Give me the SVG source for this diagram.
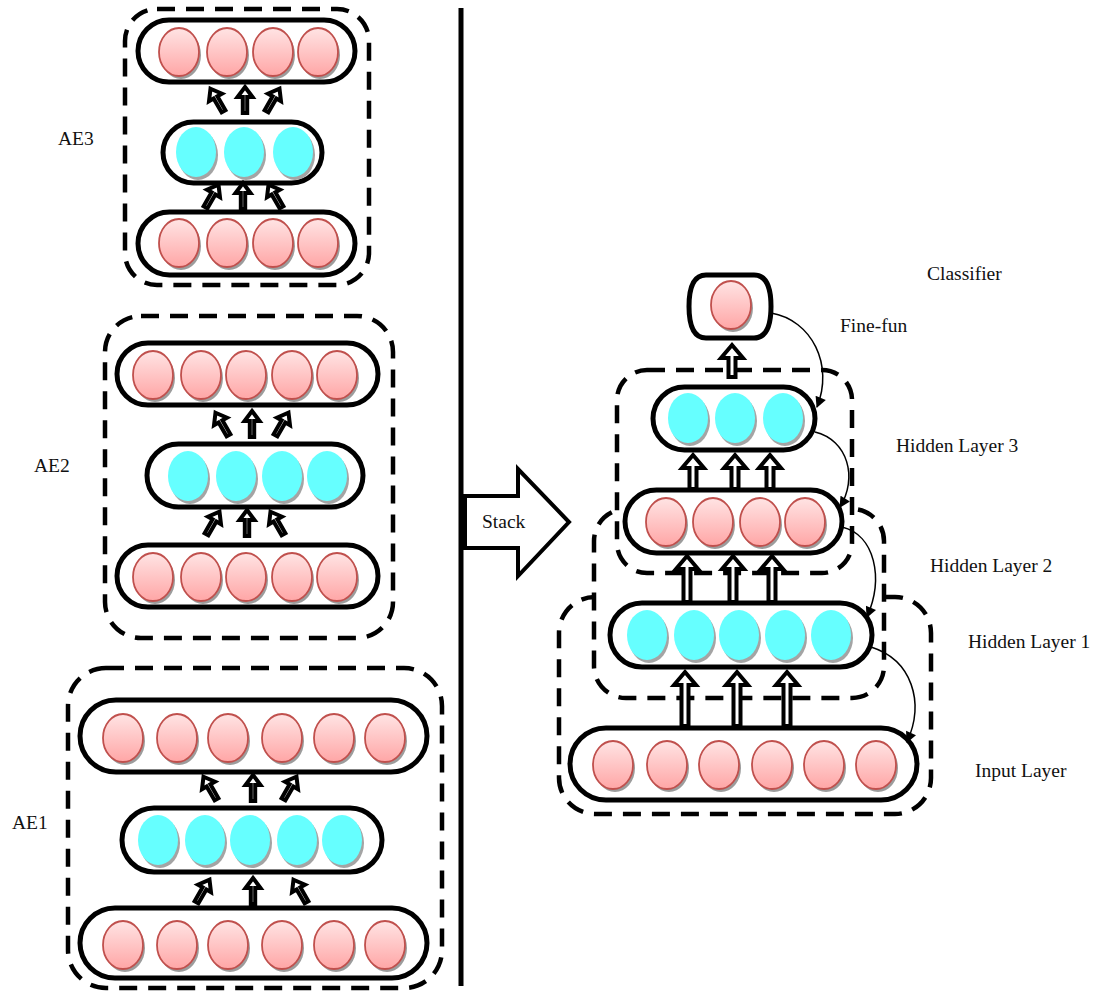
<svg xmlns="http://www.w3.org/2000/svg" xmlns:xlink="http://www.w3.org/1999/xlink" width="1096" height="993" viewBox="0 0 1096 993">
  <style>
    .lbl { font-family: "Liberation Serif", "Times New Roman", serif; font-size: 19.5px; fill: #111; }
    .dash { fill: #fff; stroke: #000; stroke-width: 4.5; stroke-dasharray: 18 11; }
    .pill { fill: #fff; stroke: #000; stroke-width: 5; }
    .blk { fill: #fff; stroke: #000; stroke-width: 4; stroke-linejoin: miter; }
    .conn { fill: none; stroke: #000; stroke-width: 1.5; }
  </style>
  <defs>
    <linearGradient id="pg" x1="0" y1="0" x2="0" y2="1">
      <stop offset="0" stop-color="#ffe4e4"/>
      <stop offset="1" stop-color="#ffa6a6"/>
    </linearGradient>
    <!-- pink neuron with soft drop shadow -->
    <g id="pn">
      <ellipse cx="2" cy="3" rx="20" ry="24" fill="#9c9c9c"/>
      <ellipse rx="20" ry="24" fill="url(#pg)" stroke="#c0504d" stroke-width="1.8"/>
    </g>
    <!-- cyan neuron -->
    <g id="cn">
      <ellipse cx="2" cy="3" rx="20" ry="25" fill="#a4a4a4"/>
      <ellipse rx="20" ry="25" fill="#66ffff"/>
    </g>
    <!-- small hollow block arrow pointing up -->
    <path id="sa" class="blk" d="M0,-13 L7.5,-3 L2.2,-3 L2.2,13 L-2.2,13 L-2.2,-3 L-7.5,-3 Z"/>
    <marker id="ah" viewBox="0 0 10 10" refX="9" refY="5" markerWidth="12" markerHeight="11" markerUnits="userSpaceOnUse" orient="auto">
      <path d="M0,0 L10,5 L0,10 Z" fill="#000"/>
    </marker>
  </defs>

  <!-- divider -->
  <rect x="458.5" y="8" width="5" height="978" fill="#000"/>

  <!-- Stack arrow -->
  <g id="stack">
    <polygon points="465,496 518,496 518,469 569,522 518,576 518,548 465,548" fill="#fff" stroke="#000" stroke-width="4"/>
    <text class="lbl" x="482" y="528">Stack</text>
  </g>

  <!-- AE3 -->
  <g id="ae3">
    <rect class="dash" x="125" y="9" width="244" height="276" rx="32"/>
    <rect class="pill" x="138" y="20" width="217" height="62" rx="31"/>
    <use href="#pn" x="179" y="52"/><use href="#pn" x="227" y="52"/><use href="#pn" x="273" y="52"/><use href="#pn" x="318" y="52"/>
    <rect class="pill" x="163" y="122" width="159" height="61" rx="30.5"/>
    <use href="#cn" x="196" y="152"/><use href="#cn" x="244" y="152"/><use href="#cn" x="293" y="152"/>
    <rect class="pill" x="138" y="212" width="217" height="63" rx="31.5"/>
    <use href="#pn" x="179" y="243"/><use href="#pn" x="227" y="243"/><use href="#pn" x="273" y="243"/><use href="#pn" x="318" y="243"/>
    <use href="#sa" transform="translate(217,100) rotate(-30)"/>
    <use href="#sa" transform="translate(245,100)"/>
    <use href="#sa" transform="translate(273,100) rotate(30)"/>
    <use href="#sa" transform="translate(212,196) rotate(30)"/>
    <use href="#sa" transform="translate(243,196)"/>
    <use href="#sa" transform="translate(275,196) rotate(-30)"/>
    <text class="lbl" x="58" y="145">AE3</text>
  </g>

  <!-- AE2 -->
  <g id="ae2">
    <rect class="dash" x="105" y="316" width="288" height="322" rx="36"/>
    <rect class="pill" x="117" y="343" width="261" height="62" rx="31"/>
    <use href="#pn" x="153" y="375"/><use href="#pn" x="201" y="375"/><use href="#pn" x="246" y="375"/><use href="#pn" x="292" y="375"/><use href="#pn" x="337" y="375"/>
    <rect class="pill" x="147" y="444" width="216" height="63" rx="31.5"/>
    <use href="#cn" x="188" y="476"/><use href="#cn" x="236" y="476"/><use href="#cn" x="282" y="476"/><use href="#cn" x="327" y="476"/>
    <rect class="pill" x="117" y="545" width="261" height="62" rx="31"/>
    <use href="#pn" x="153" y="577"/><use href="#pn" x="201" y="577"/><use href="#pn" x="246" y="577"/><use href="#pn" x="292" y="577"/><use href="#pn" x="337" y="577"/>
    <use href="#sa" transform="translate(222,424) rotate(-30)"/>
    <use href="#sa" transform="translate(252,424)"/>
    <use href="#sa" transform="translate(282,424) rotate(30)"/>
    <use href="#sa" transform="translate(213,523) rotate(30)"/>
    <use href="#sa" transform="translate(247,523)"/>
    <use href="#sa" transform="translate(277,523) rotate(-30)"/>
    <text class="lbl" x="34" y="472">AE2</text>
  </g>

  <!-- AE1 -->
  <g id="ae1">
    <rect class="dash" x="68" y="668" width="374" height="320" rx="38"/>
    <rect class="pill" x="80" y="700" width="347" height="72" rx="36"/>
    <use href="#pn" x="123" y="738"/><use href="#pn" x="177" y="738"/><use href="#pn" x="228" y="738"/><use href="#pn" x="282" y="738"/><use href="#pn" x="334" y="738"/><use href="#pn" x="385" y="738"/>
    <rect class="pill" x="122" y="808" width="260" height="64" rx="32"/>
    <use href="#cn" x="158" y="840"/><use href="#cn" x="205" y="840"/><use href="#cn" x="250" y="840"/><use href="#cn" x="297" y="840"/><use href="#cn" x="342" y="840"/>
    <rect class="pill" x="80" y="908" width="347" height="70" rx="35"/>
    <use href="#pn" x="123" y="945"/><use href="#pn" x="177" y="945"/><use href="#pn" x="228" y="945"/><use href="#pn" x="282" y="945"/><use href="#pn" x="334" y="945"/><use href="#pn" x="385" y="945"/>
    <use href="#sa" transform="translate(210,788) rotate(-30)"/>
    <use href="#sa" transform="translate(253,788)"/>
    <use href="#sa" transform="translate(290,788) rotate(30)"/>
    <use href="#sa" transform="translate(203,891) rotate(30)"/>
    <use href="#sa" transform="translate(253,891)"/>
    <use href="#sa" transform="translate(300,891) rotate(-30)"/>
    <text class="lbl" x="12" y="829">AE1</text>
  </g>

  <!-- stacked network: nested dashed groups (white filled so inner ones mask outer edges) -->
  <g id="stack-groups">
    <rect class="dash" x="559" y="597" width="372" height="217" rx="36"/>
    <rect class="dash" x="594" y="509" width="290" height="189" rx="32"/>
    <rect class="dash" x="617" y="370" width="235" height="203" rx="30"/>
  </g>

  <!-- block arrows between stacked layers -->
  <g id="stack-arrows">
    <path class="blk" d="M732,345 L743,358 L735.5,358 L735.5,377 L728.5,377 L728.5,358 L721,358 Z"/>
    <path class="blk" d="M693,455 L704,468 L696.5,468 L696.5,489 L689.5,489 L689.5,468 L682,468 Z"/>
    <path class="blk" d="M735,455 L746,468 L738.5,468 L738.5,489 L731.5,489 L731.5,468 L724,468 Z"/>
    <path class="blk" d="M770,455 L781,468 L773.5,468 L773.5,489 L766.5,489 L766.5,468 L759,468 Z"/>
    <path class="blk" d="M687,556 L698,569 L690.5,569 L690.5,602 L683.5,602 L683.5,569 L676,569 Z"/>
    <path class="blk" d="M733,556 L744,569 L736.5,569 L736.5,602 L729.5,602 L729.5,569 L722,569 Z"/>
    <path class="blk" d="M772,556 L783,569 L775.5,569 L775.5,602 L768.5,602 L768.5,569 L761,569 Z"/>
    <path class="blk" d="M685,672 L696,685 L688.5,685 L688.5,726 L681.5,726 L681.5,685 L674,685 Z"/>
    <path class="blk" d="M737,672 L748,685 L740.5,685 L740.5,726 L733.5,726 L733.5,685 L726,685 Z"/>
    <path class="blk" d="M787,672 L798,685 L790.5,685 L790.5,726 L783.5,726 L783.5,685 L776,685 Z"/>
  </g>

  <g id="classifier">
    <path class="pill" d="M706,275 H754 Q771,275 771,306.5 Q771,338 754,338 H706 Q689,338 689,306.5 Q689,275 706,275 Z"/>
    <use href="#pn" x="731" y="305"/>
    <text class="lbl" x="927" y="280">Classifier</text>
  </g>

  <g id="hidden3">
    <rect class="pill" x="653" y="387" width="162" height="63" rx="31.5"/>
    <use href="#cn" x="688" y="418"/><use href="#cn" x="735" y="418"/><use href="#cn" x="783" y="418"/>
    <text class="lbl" x="896" y="452">Hidden Layer 3</text>
  </g>

  <g id="hidden2">
    <rect class="pill" x="625" y="490" width="217" height="63" rx="31.5"/>
    <use href="#pn" x="666" y="522"/><use href="#pn" x="713" y="522"/><use href="#pn" x="760" y="522"/><use href="#pn" x="805" y="522"/>
    <text class="lbl" x="930" y="572">Hidden Layer 2</text>
  </g>

  <g id="hidden1">
    <rect class="pill" x="610" y="603" width="262" height="64" rx="32"/>
    <use href="#cn" x="647" y="635"/><use href="#cn" x="694" y="635"/><use href="#cn" x="739" y="635"/><use href="#cn" x="785" y="635"/><use href="#cn" x="831" y="635"/>
    <text class="lbl" x="968" y="648">Hidden Layer 1</text>
  </g>

  <g id="input">
    <rect class="pill" x="570" y="728" width="347" height="72" rx="36"/>
    <use href="#pn" x="613" y="765"/><use href="#pn" x="667" y="765"/><use href="#pn" x="719" y="765"/><use href="#pn" x="772" y="765"/><use href="#pn" x="824" y="765"/><use href="#pn" x="876" y="765"/>
    <text class="lbl" x="975" y="777">Input Layer</text>
  </g>

  <!-- fine-tuning feedback connectors -->
  <g id="connectors">
    <path class="conn" marker-end="url(#ah)" d="M771,313 C812,320 834,365 817,407"/>
    <path class="conn" marker-end="url(#ah)" d="M815,432 C848,440 858,478 840,507"/>
    <path class="conn" marker-end="url(#ah)" d="M842,527 C875,535 884,578 867,617"/>
    <path class="conn" marker-end="url(#ah)" d="M871,647 C912,660 925,702 907,742"/>
    <text class="lbl" x="840" y="332">Fine-fun</text>
  </g>
</svg>
